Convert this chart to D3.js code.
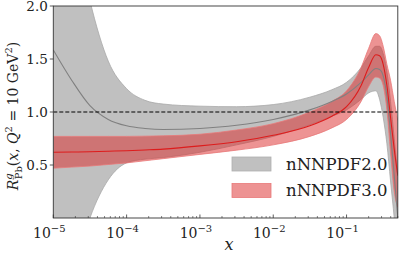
<!DOCTYPE html>
<html>
<head>
<meta charset="utf-8">
<script src="https://cdn.jsdelivr.net/npm/d3@7"></script>
<style>
  body { margin: 0; background: #fff; }
</style>
</head>
<body>
<svg></svg>
<script>
// Chart size
const width = 399;
const height = 257;
const margin = { top: 6, right: 1.2, bottom: 39, left: 53.3 };

// x grid (shared by all curves)
const xs = [1e-5, 1.78e-5, 3.16e-5, 5.62e-5, 1e-4, 1.78e-4, 3.16e-4, 1e-3, 3.16e-3, 1e-2,
            3.16e-2, 0.063, 0.1, 0.158, 0.2, 0.251, 0.282, 0.316, 0.355, 0.398, 0.447, 0.5];

// nNNPDF2.0 (gray)
const nn20Central = [1.585, 1.30, 1.06, 0.93, 0.87, 0.845, 0.835, 0.845, 0.875, 0.93,
                     1.02, 1.10, 1.17, 1.28, 1.35, 1.41, 1.40, 1.34, 1.15, 0.80, 0.40, 0.0];
const nn20Upper   = [4.2, 2.9, 2.05, 1.48, 1.22, 1.11, 1.075, 1.055, 1.05, 1.07,
                     1.14, 1.21, 1.28, 1.42, 1.53, 1.62, 1.62, 1.55, 1.38, 1.10, 0.75, 0.40];
const nn20Lower   = [-1.6, -0.6, 0.0, 0.36, 0.52, 0.555, 0.57, 0.62, 0.69, 0.77,
                     0.88, 0.96, 1.02, 1.12, 1.18, 1.20, 1.12, 0.95, 0.70, 0.35, 0.0, -0.4];

// nNNPDF3.0 (red)
const nn30Central = [0.62, 0.622, 0.625, 0.63, 0.635, 0.642, 0.65, 0.68, 0.72, 0.78,
                     0.87, 0.96, 1.05, 1.25, 1.42, 1.54, 1.53, 1.45, 1.25, 0.95, 0.65, 0.40];
const nn30Upper   = [0.77, 0.77, 0.77, 0.77, 0.77, 0.772, 0.775, 0.79, 0.83, 0.89,
                     1.0, 1.10, 1.20, 1.42, 1.60, 1.74, 1.72, 1.62, 1.45, 1.30, 1.10, 0.92];
const nn30Lower   = [0.47, 0.48, 0.49, 0.505, 0.52, 0.54, 0.56, 0.60, 0.64, 0.69,
                     0.77, 0.85, 0.93, 1.10, 1.24, 1.33, 1.32, 1.25, 1.02, 0.62, 0.25, 0.10];

const xTicks = [1e-5, 1e-4, 1e-3, 1e-2, 1e-1];
const xTickExp = ["−5", "−4", "−3", "−2", "−1"];
const yTicks = [0.5, 1.0, 1.5, 2.0];
const legendNames = ["nNNPDF2.0", "nNNPDF3.0"];

const svg = d3.select("svg")
    .attr("width", width)
    .attr("height", height)
    .attr("font-family", "'DejaVu Serif', 'Liberation Serif', serif");

const x = d3.scaleLog()
    .domain([1e-5, 0.5])
    .range([margin.left, width - margin.right]);

const y = d3.scaleLinear()
    .domain([0, 2])
    .range([height - margin.bottom, margin.top]);

// clip to the plot area
svg.append("clipPath").attr("id", "plot")
  .append("rect")
    .attr("x", margin.left).attr("y", margin.top)
    .attr("width", width - margin.right - margin.left)
    .attr("height", height - margin.bottom - margin.top);

const g = svg.append("g").attr("clip-path", "url(#plot)");

const area = d3.area()
    .x(function(d) { return x(d.x); })
    .y0(function(d) { return y(d.lo); })
    .y1(function(d) { return y(d.hi); })
    .curve(d3.curveMonotoneX);

const line = d3.line()
    .x(function(d) { return x(d.x); })
    .y(function(d) { return y(d.v); })
    .curve(d3.curveMonotoneX);

function bandData(lo, hi) {
    return xs.map(function(v, i) { return { x: v, lo: lo[i], hi: hi[i] }; });
}
function lineData(vals) {
    return xs.map(function(v, i) { return { x: v, v: vals[i] }; });
}

// gray band
g.append("path")
    .attr("d", area(bandData(nn20Lower, nn20Upper)))
    .attr("fill", "#c0c0c0");
g.append("path").attr("d", line(lineData(nn20Upper)))
    .attr("fill", "none").attr("stroke", "#a8a8a8").attr("stroke-width", 0.8);
g.append("path").attr("d", line(lineData(nn20Lower)))
    .attr("fill", "none").attr("stroke", "#a8a8a8").attr("stroke-width", 0.8);

// red band
g.append("path")
    .attr("d", area(bandData(nn30Lower, nn30Upper)))
    .attr("fill", "rgb(220,40,40)")
    .attr("fill-opacity", 0.5);
g.append("path").attr("d", line(lineData(nn30Upper)))
    .attr("fill", "none").attr("stroke", "#e87878").attr("stroke-width", 0.8);
g.append("path").attr("d", line(lineData(nn30Lower)))
    .attr("fill", "none").attr("stroke", "#e87878").attr("stroke-width", 0.8);

// central lines
g.append("path").attr("d", line(lineData(nn20Central)))
    .attr("fill", "none").attr("stroke", "#808080").attr("stroke-width", 1.1);
g.append("path").attr("d", line(lineData(nn30Central)))
    .attr("fill", "none").attr("stroke", "#dd1c1c").attr("stroke-width", 1.1);

// dashed line at 1
g.append("line")
    .attr("x1", margin.left).attr("x2", width - margin.right)
    .attr("y1", y(1)).attr("y2", y(1))
    .attr("stroke", "#000").attr("stroke-width", 1.1)
    .attr("stroke-dasharray", "4,2");

// frame
svg.append("rect")
    .attr("x", margin.left).attr("y", margin.top)
    .attr("width", width - margin.right - margin.left)
    .attr("height", height - margin.bottom - margin.top)
    .attr("fill", "none").attr("stroke", "#333").attr("stroke-width", 0.9);

// x axis: inward ticks
const minor = [];
for (let e = -5; e < 0; e++) {
    for (let k = 2; k <= 9; k++) {
        const v = k * Math.pow(10, e);
        if (v <= 0.5) minor.push(v);
    }
}
const xb = height - margin.bottom;
svg.append("g").selectAll("line.minor").data(minor).enter().append("line")
    .attr("x1", function(d) { return x(d); }).attr("x2", function(d) { return x(d); })
    .attr("y1", xb).attr("y2", xb - 2)
    .attr("stroke", "#333").attr("stroke-width", 0.6);
svg.append("g").selectAll("line.major").data(xTicks).enter().append("line")
    .attr("x1", function(d) { return x(d); }).attr("x2", function(d) { return x(d); })
    .attr("y1", xb).attr("y2", xb - 3.5)
    .attr("stroke", "#333").attr("stroke-width", 0.8);

const xl = svg.append("g").selectAll("text").data(xTicks).enter().append("text")
    .attr("x", function(d) { return x(d) - 4; })
    .attr("y", xb + 20)
    .attr("text-anchor", "middle")
    .attr("font-size", 14)
    .attr("fill", "#222");
xl.append("tspan").text("10");
xl.append("tspan").attr("dy", -6).attr("font-size", 10)
    .text(function(d, i) { return xTickExp[i]; });

// y axis: outward ticks
svg.append("g").selectAll("line").data(yTicks).enter().append("line")
    .attr("x1", margin.left - 3.5).attr("x2", margin.left)
    .attr("y1", function(d) { return y(d); }).attr("y2", function(d) { return y(d); })
    .attr("stroke", "#333").attr("stroke-width", 0.8);
svg.append("g").selectAll("text").data(yTicks).enter().append("text")
    .attr("x", margin.left - 5.5)
    .attr("y", function(d) { return y(d) + 5; })
    .attr("text-anchor", "end")
    .attr("font-size", 13.5)
    .attr("fill", "#222")
    .text(function(d) { return d.toFixed(1); });

// axis labels
svg.append("text")
    .attr("x", 229).attr("y", 250)
    .attr("text-anchor", "middle")
    .attr("font-size", 16)
    .attr("font-style", "italic")
    .attr("fill", "#222")
    .text("x");

const yl = svg.append("text")
    .attr("transform", "translate(18," + 116 + ") rotate(-90)")
    .attr("text-anchor", "middle")
    .attr("font-size", 14)
    .attr("fill", "#222");
yl.append("tspan").attr("font-style", "italic").text("R");
yl.append("tspan").attr("font-style", "italic").attr("font-size", 10).attr("dy", -6).text("g");
yl.append("tspan").attr("font-size", 10).attr("dx", -6).attr("dy", 10).text("Pb");
yl.append("tspan").attr("dy", -4).text("(");
yl.append("tspan").attr("font-style", "italic").text("x");
yl.append("tspan").text(", ");
yl.append("tspan").attr("font-style", "italic").text("Q");
yl.append("tspan").attr("font-size", 10).attr("dy", -6).text("2");
yl.append("tspan").attr("dy", 6).text(" = 10 GeV");
yl.append("tspan").attr("font-size", 10).attr("dy", -6).text("2");
yl.append("tspan").attr("dy", 6).text(")");

// legend
const legend = svg.append("g");
const lg = legend.selectAll("g").data(legendNames).enter().append("g")
    .attr("transform", function(d, i) { return "translate(232," + (157 + i * 26.5) + ")"; });
lg.append("rect")
    .attr("width", 39).attr("height", 14)
    .attr("fill", function(d, i) { return i === 0 ? "#c0c0c0" : "rgb(220,40,40)"; })
    .attr("fill-opacity", function(d, i) { return i === 0 ? 1 : 0.5; })
    .attr("stroke", function(d, i) { return i === 0 ? "#b0b0b0" : "#e87878"; })
    .attr("stroke-width", 0.8);
lg.append("text")
    .attr("x", 54).attr("y", 12.5)
    .attr("font-size", 16.5)
    .attr("fill", "#222")
    .text(function(d) { return d; });
</script>
</body>
</html>
